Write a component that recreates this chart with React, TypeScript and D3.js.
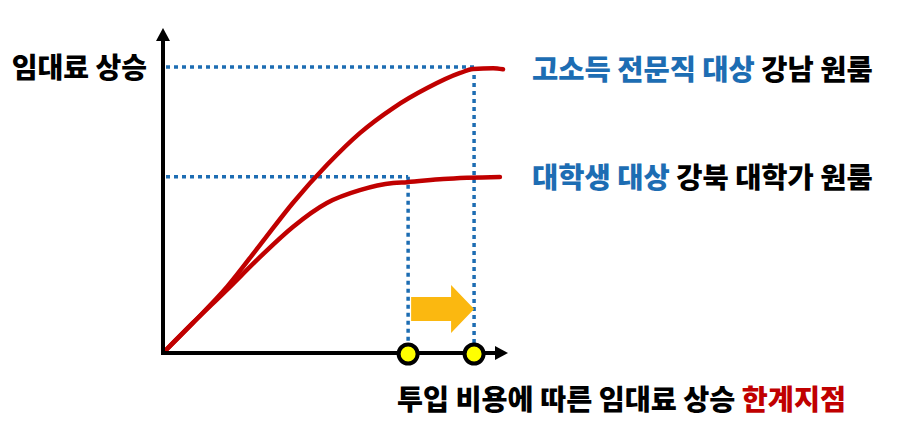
import React from "react";
import * as d3 from "d3";

// Investment cost (x, 0-100) vs rent increase (y, 0-100)
const upperX = [0, 8.5, 18.5, 28.2, 37.9, 47.9, 57.6, 67.4, 77.4, 87.1, 90.9, 96.8, 99.7];
const upperY = [0, 10.2, 22.8, 37.5, 52.3, 65.6, 76.8, 85.6, 92.6, 97.9, 99.3, 99.6, 99.2];
const lowerX = [0, 8.5, 18.5, 28.2, 37.9, 47.9, 57.6, 67.4, 71.5, 82.1, 98.8];
const lowerY = [0, 10.2, 21.8, 33.3, 43.9, 52.3, 56.8, 59.3, 59.6, 60.7, 61.4];
// limit points: [x threshold, y level]
const limitX = [71.8, 91.2];
const limitY = [61.5, 100];

const yAxisLabel = "임대료 상승";
const upperLabelBlue = "고소득 전문직 대상";
const upperLabelBlack = " 강남 원룸";
const lowerLabelBlue = "대학생 대상";
const lowerLabelBlack = " 강북 대학가 원룸";
const xAxisLabelBlack = "투입 비용에 따른 임대료 상승 ";
const xAxisLabelRed = "한계지점";

const W = 901;
const H = 447;
const FONT = "'Noto Sans CJK KR', 'Noto Sans', sans-serif";
const RED = "#c00000";
const BLUE = "#1d6db3";

export default function App() {
  const x = d3.scaleLinear().domain([0, 100]).range([164, 504]);
  const y = d3.scaleLinear().domain([0, 100]).range([352, 67]);
  const x0 = x(0);
  const y0 = y(0);
  const line = d3
    .line<[number, number]>()
    .x((d) => x(d[0]))
    .y((d) => y(d[1]))
    .curve(d3.curveMonotoneX);
  const upper = upperX.map((v, i) => [v, upperY[i]] as [number, number]);
  const lower = lowerX.map((v, i) => [v, lowerY[i]] as [number, number]);

  const axisTop = 28;
  const axisRight = 508;
  const axisY = y0 + 1;

  // arrow between limits
  const ax1 = x(limitX[0]) + 3;
  const ax2 = x(limitX[1]);
  const ayc = 309;
  const bodyH = 12;
  const headH = 24;
  const headW = 23;
  const arrowPts: [number, number][] = [
    [ax1, ayc - bodyH],
    [ax2 - headW, ayc - bodyH],
    [ax2 - headW, ayc - headH],
    [ax2, ayc],
    [ax2 - headW, ayc + headH],
    [ax2 - headW, ayc + bodyH],
    [ax1, ayc + bodyH],
  ];

  return (
    <svg
      width={W}
      height={H}
      style={{ position: "absolute", left: 0, top: 0, background: "#fff" }}
      fontFamily={FONT}
    >
      {/* dotted guide lines */}
      {limitX.map((lx, i) => (
        <g key={i}>
          <line
            x1={x0 + 2}
            x2={x(lx)}
            y1={y(limitY[i])}
            y2={y(limitY[i])}
            stroke={BLUE}
            strokeWidth={3.5}
            strokeDasharray="4 4"
          />
          <line
            x1={x(lx)}
            x2={x(lx)}
            y1={y(limitY[i])}
            y2={axisY - 8}
            stroke={BLUE}
            strokeWidth={3.5}
            strokeDasharray="4 4"
          />
        </g>
      ))}

      {/* orange arrow */}
      <polygon points={arrowPts.map((p) => p.join(",")).join(" ")} fill="#fbb810" />

      {/* curves */}
      <path d={line(upper) || ""} fill="none" stroke={RED} strokeWidth={4.5} strokeLinecap="round" />
      <path d={line(lower) || ""} fill="none" stroke={RED} strokeWidth={4.5} strokeLinecap="round" />

      {/* axes */}
      <line x1={x0 - 1} x2={x0 - 1} y1={axisTop + 10} y2={axisY + 2} stroke="#000" strokeWidth={4} />
      <polygon
        points={`${x0 - 1},${axisTop} ${x0 - 8},${axisTop + 13} ${x0 + 6},${axisTop + 13}`}
        fill="#000"
      />
      <line x1={x0 - 3} x2={axisRight - 10} y1={axisY} y2={axisY} stroke="#000" strokeWidth={4} />
      <polygon
        points={`${axisRight},${axisY} ${axisRight - 13},${axisY - 7} ${axisRight - 13},${axisY + 7}`}
        fill="#000"
      />

      {/* limit circles */}
      {limitX.map((lx, i) => (
        <circle key={i} cx={x(lx)} cy={axisY + 1} r={9.5} fill="#ffff00" stroke="#000" strokeWidth={4} />
      ))}

      {/* labels */}
      <text x={147} y={y(100) + 3} fontSize={28} fontWeight={900} textAnchor="end" dominantBaseline="middle" fill="#000">
        {yAxisLabel}
      </text>
      <text x={532} y={y(100) + 5} fontSize={28.5} fontWeight={900} dominantBaseline="middle">
        <tspan fill={BLUE}>{upperLabelBlue}</tspan>
        <tspan fill="#000">{upperLabelBlack}</tspan>
      </text>
      <text x={532} y={y(61.5) + 3} fontSize={28.5} fontWeight={900} dominantBaseline="middle">
        <tspan fill={BLUE}>{lowerLabelBlue}</tspan>
        <tspan fill="#000">{lowerLabelBlack}</tspan>
      </text>
      <text x={397} y={402} fontSize={28.3} fontWeight={900} dominantBaseline="middle" xmlSpace="preserve">
        <tspan fill="#000">{xAxisLabelBlack}</tspan>
        <tspan fill={RED}>{xAxisLabelRed}</tspan>
      </text>
    </svg>
  );
}
